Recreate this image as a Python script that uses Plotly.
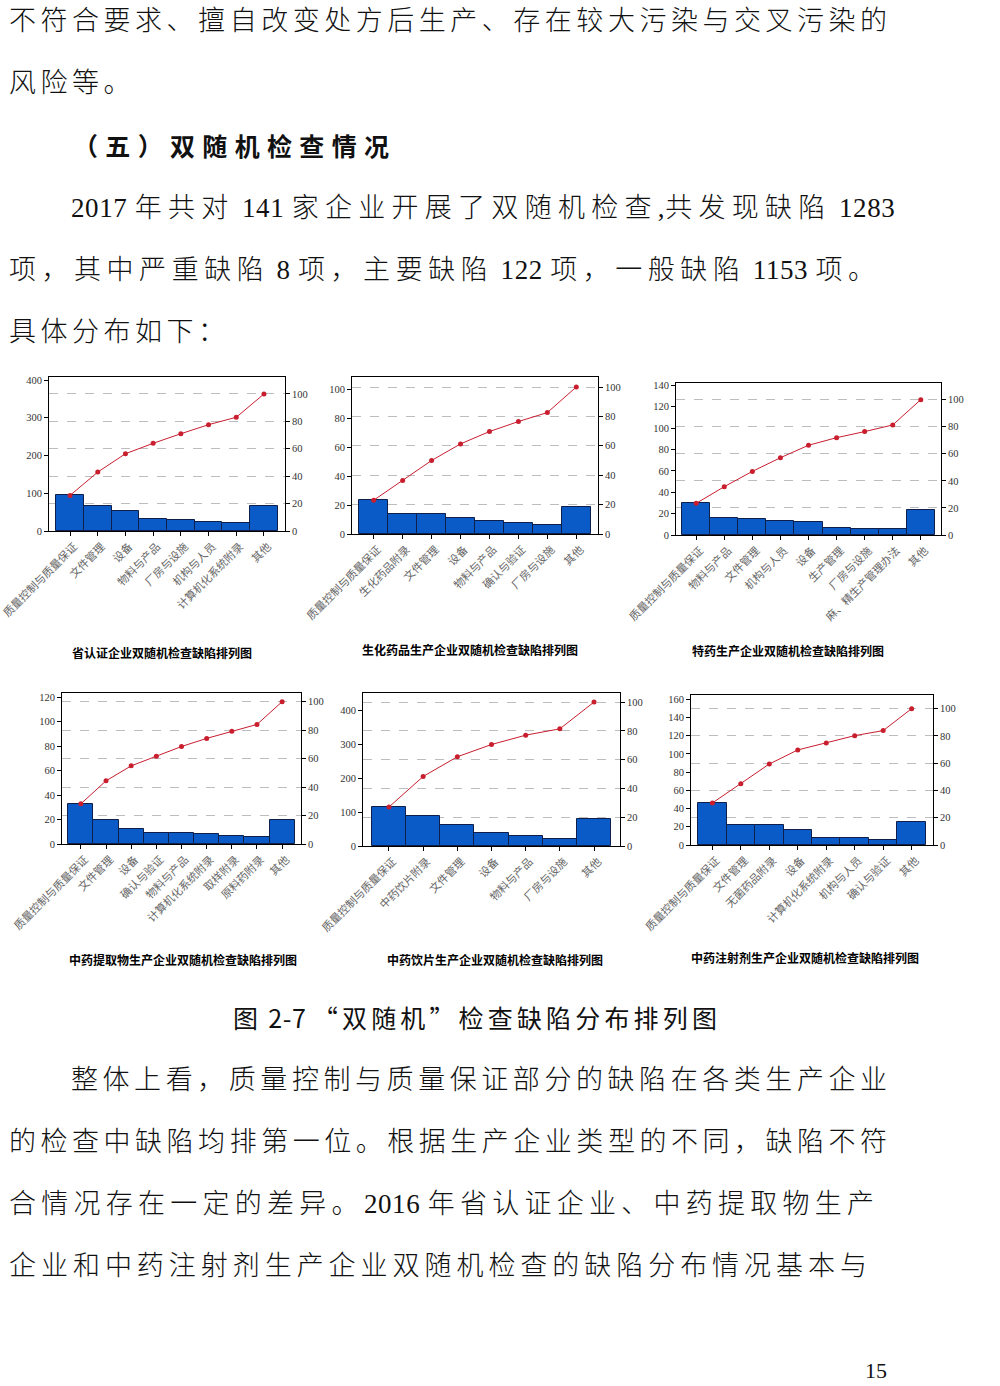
import plotly.graph_objects as go

W, H = 1000, 1386

# ---------------- data ----------------
cat1 = ["质量控制与质量保证", "文件管理", "设备", "物料与产品", "厂房与设施", "机构与人员", "计算机化系统附录", "其他"]
bar1 = [95, 65, 52, 31, 28, 23, 20, 65]
cum1 = [26, 43, 56.4, 64, 71, 77.6, 83, 100]

cat2 = ["质量控制与质量保证", "生化药品附录", "文件管理", "设备", "物料与产品", "确认与验证", "厂房与设施", "其他"]
bar2 = [23.5, 14, 14, 11, 9, 7.5, 6.5, 18.5]
cum2 = [23, 36.4, 50, 61.3, 69.7, 76.5, 82.6, 100]

cat3 = ["质量控制与质量保证", "物料与产品", "文件管理", "机构与人员", "设备", "生产管理", "厂房与设施", "麻、精生产管理办法", "其他"]
bar3 = [30, 16, 15, 13, 12, 7, 6, 6, 23]
cum3 = [23.4, 35.7, 47, 57.1, 66.3, 71.9, 76.4, 81.3, 100]

cat4 = ["质量控制与质量保证", "文件管理", "设备", "确认与验证", "物料与产品", "计算机化系统附录", "取样附录", "原料药附录", "其他"]
bar4 = [32.5, 19.4, 12, 8.7, 8.7, 7.9, 6.3, 5.5, 19.4]
cum4 = [28.2, 44.4, 54.9, 61.7, 68.5, 74.2, 79.3, 84, 100]

cat5 = ["质量控制与质量保证", "中药饮片附录", "文件管理", "设备", "物料与产品", "厂房与设施", "其他"]
bar5 = [116, 88, 61, 37, 30, 20, 80]
cum5 = [27.1, 48.3, 62, 70.5, 77, 81.4, 100]

cat6 = ["质量控制与质量保证", "文件管理", "无菌药品附录", "设备", "计算机化系统附录", "机构与人员", "确认与验证", "其他"]
bar6 = [46, 22, 22, 16, 8, 8, 6, 25]
cum6 = [30.8, 45, 59.4, 69.7, 74.8, 80.2, 83.9, 100]

titles = [
    "省认证企业双随机检查缺陷排列图",
    "生化药品生产企业双随机检查缺陷排列图",
    "特药生产企业双随机检查缺陷排列图",
    "中药提取物生产企业双随机检查缺陷排列图",
    "中药饮片生产企业双随机检查缺陷排列图",
    "中药注射剂生产企业双随机检查缺陷排列图",
]

cats = [cat1, cat2, cat3, cat4, cat5, cat6]
bars = [bar1, bar2, bar3, bar4, bar5, bar6]
cums = [cum1, cum2, cum3, cum4, cum5, cum6]

# ---------------- layout geometry (window pixels) ----------------
# (left, right, top, bottom, left_max, left_dtick, right_max, pad, title_cx, title_cy)
boxes = [
    (49, 285, 377, 531, 408, 100, 112.4, 0.26, 162, 652),
    (352, 598, 377, 534, 108.8, 20, 106.8, 0.25, 470, 649),
    (676, 941, 383, 535, 142.2, 20, 112.3, 0.22, 788, 650),
    (62, 301, 693, 844, 123.3, 20, 106.1, 0.25, 183, 959),
    (363, 620, 693, 846, 452, 100, 106.3, 0.26, 495, 959),
    (691, 933, 695, 845, 164.8, 20, 110, 0.25, 805, 957),
]


def px(x):
    return x / W


def py(y):
    return 1 - y / H


BAR_COLOR = "#0a5bc8"
BAR_EDGE = "#0f1f48"
LINE_COLOR = "#c81e2e"
NUM_FONT = "Liberation Serif, Noto Sans CJK SC"
CJK_FONT = "Noto Sans CJK SC"

fig = go.Figure()
layout = {}

for k in range(1, 7):
    L, R, T, B, lmax, ldt, rmax, pad, tcx, tcy = boxes[k - 1]
    c, b, cu = cats[k - 1], bars[k - 1], cums[k - 1]
    n = len(c)
    xname = "x" if k == 1 else f"x{k}"
    ylname = "y" if k == 1 else f"y{2 * k - 1}"
    yrname = f"y{2 * k}"
    xkey = "xaxis" if k == 1 else f"xaxis{k}"
    ylkey = "yaxis" if k == 1 else f"yaxis{2 * k - 1}"
    yrkey = f"yaxis{2 * k}"

    fig.add_trace(go.Bar(x=c, y=b, xaxis=xname, yaxis=ylname,
                         marker=dict(color=BAR_COLOR, line=dict(color=BAR_EDGE, width=1)),
                         showlegend=False, hoverinfo="skip"))
    fig.add_trace(go.Scatter(x=c, y=cu, xaxis=xname, yaxis=yrname, mode="lines+markers",
                             line=dict(color=LINE_COLOR, width=1),
                             marker=dict(color=LINE_COLOR, size=5),
                             showlegend=False, hoverinfo="skip"))

    layout[xkey] = dict(domain=[px(L), px(R)], anchor=ylname, type="category",
                        range=[-0.5 - pad, n - 0.5 + pad], tickmode="array",
                        tickvals=c, ticktext=c, tickangle=-45, automargin=False,
                        ticklabelshift=4,
                        tickfont=dict(family=CJK_FONT, size=11, color="#666"),
                        showline=True, linecolor="black", linewidth=1, mirror=True,
                        ticks="outside", ticklen=4, tickcolor="black",
                        showgrid=False, zeroline=False, fixedrange=True)
    layout[ylkey] = dict(domain=[py(B), py(T)], anchor=xname,
                         range=[0, lmax], dtick=ldt, tick0=0, automargin=False,
                         tickfont=dict(family=NUM_FONT, size=10.5, color="#333"),
                         showline=True, linecolor="black", linewidth=1,
                         ticks="outside", ticklen=4, tickcolor="black",
                         showgrid=False, zeroline=False, fixedrange=True)
    layout[yrkey] = dict(overlaying=ylname, side="right", anchor=xname,
                         range=[0, rmax], dtick=20, tick0=0, automargin=False,
                         tickfont=dict(family=NUM_FONT, size=10.5, color="#333"),
                         showline=True, linecolor="black", linewidth=1,
                         ticks="outside", ticklen=4, tickcolor="black",
                         showgrid=True, gridcolor="#bdbdbd", griddash="dash", gridwidth=1,
                         zeroline=False, fixedrange=True)

annotations = []
for k in range(1, 7):
    tcx, tcy = boxes[k - 1][8], boxes[k - 1][9]
    annotations.append(dict(text=titles[k - 1], xref="paper", yref="paper",
                            x=px(tcx), y=py(tcy), xanchor="center", yanchor="middle",
                            showarrow=False,
                            font=dict(family=CJK_FONT, size=12, color="black", weight="bold")))


# ---------------- page text ----------------
def char_em(ch):
    if ord(ch) >= 0x2E80 or ch in "“”":
        return 1.0
    if ch.isdigit():
        return 0.5
    if ch in " ,":
        return 0.25
    if ch == "-":
        return 0.333
    return 0.5


ASCII_LS = 0.6


def spaced_html(text, size, x0, x1=None, ls=None):
    """Wrap runs of wide / narrow characters in spans with their own letter spacing."""
    n_wide = sum(1 for ch in text if char_em(ch) == 1.0)
    n_narrow = len(text) - n_wide
    nat = sum(char_em(ch) for ch in text) * size
    if ls is None:
        ls = (x1 - x0 - nat - n_narrow * ASCII_LS) / max(n_wide - 1, 1)
    out, run, run_wide = [], "", None
    for ch in text:
        w = char_em(ch) == 1.0
        if run and w != run_wide:
            out.append((run, run_wide))
            run = ""
        run += ch
        run_wide = w
    if run:
        out.append((run, run_wide))
    html = ""
    for seg, wide in out:
        sp = ls if wide else ASCII_LS
        html += f"<span style='letter-spacing:{sp:.2f}px'>{seg}</span>"
    return html


BODY = 27
body_lines = [
    # text, x0, x1 (None => use given spacing), y, spacing
    ("不符合要求、擅自改变处方后生产、存在较大污染与交叉污染的", 8, 886, 21, None),
    ("风险等。", 8, None, 83, 4.5),
    ("2017 年共对 141 家企业开展了双随机检查,共发现缺陷 1283", 70, 888, 208, None),
    ("项，其中严重缺陷 8 项，主要缺陷 122 项，一般缺陷 1153 项。", 8, 875, 270, None),
    ("具体分布如下：", 8, None, 332, 4.5),
    ("整体上看，质量控制与质量保证部分的缺陷在各类生产企业", 70, 886, 1080, None),
    ("的检查中缺陷均排第一位。根据生产企业类型的不同，缺陷不符", 8, 886, 1142, None),
    ("合情况存在一定的差异。2016 年省认证企业、中药提取物生产", 8, 873, 1204, None),
    ("企业和中药注射剂生产企业双随机检查的缺陷分布情况基本与", 8, 866, 1266, None),
]

for text, x0, x1, y, sp in body_lines:
    annotations.append(dict(text=spaced_html(text, BODY, x0, x1, sp),
                            xref="paper", yref="paper", x=px(x0), y=py(y),
                            xanchor="left", yanchor="middle", showarrow=False, borderpad=0,
                            font=dict(family=NUM_FONT, size=BODY, color="#111", weight=300)))

heading = "（五）双随机检查情况"
annotations.append(dict(text=spaced_html(heading, 25, 72, 388),
                        xref="paper", yref="paper", x=px(72), y=py(145),
                        xanchor="left", yanchor="middle", showarrow=False, borderpad=0,
                        font=dict(family=CJK_FONT, size=25, color="#111", weight="bold")))

caption = "图 2-7 “双随机”检查缺陷分布排列图"
annotations.append(dict(text=spaced_html(caption, 25, 232, 714),
                        xref="paper", yref="paper", x=px(232), y=py(1017),
                        xanchor="left", yanchor="middle", showarrow=False, borderpad=0,
                        font=dict(family=CJK_FONT, size=25, color="#111")))

annotations.append(dict(text="15", xref="paper", yref="paper", x=px(876), y=py(1370),
                        xanchor="center", yanchor="middle", showarrow=False,
                        font=dict(family="Liberation Serif", size=22, color="#111")))

fig.update_layout(**layout)
fig.update_layout(width=W, height=H, margin=dict(l=0, r=0, t=0, b=0, autoexpand=False),
                  paper_bgcolor="white", plot_bgcolor="white",
                  bargap=0, hovermode=False, showlegend=False,
                  annotations=annotations)

# place the figure flush with the window corner (no default 8px body margin)
fig.write_html("out.html", config={"displayModeBar": False},
               post_script="document.body.style.margin='0px';document.body.style.overflow='hidden';")
